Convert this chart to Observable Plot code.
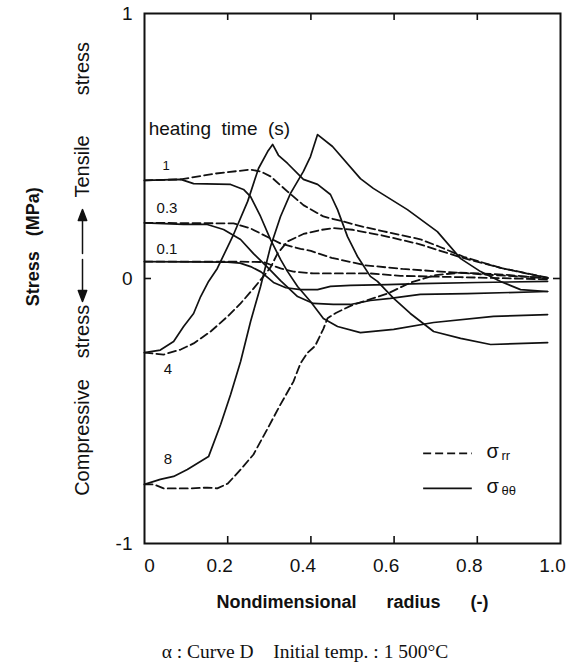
<!DOCTYPE html>
<html>
<head>
<meta charset="utf-8">
<script src="https://cdn.jsdelivr.net/npm/d3@7"></script>
<script src="https://cdn.jsdelivr.net/npm/@observablehq/plot@0.6"></script>
<style>
  body { margin: 0; background: #fff; }
  #chart { width: 576px; }
  svg text { white-space: pre; }
  g[aria-label="xlabel"] text { letter-spacing: 0.6px; }
  g[aria-label="vword"] text { letter-spacing: 1px; }
  g[aria-label="heating"] text { letter-spacing: 0.8px; }
  .caption { width: 576px; box-sizing: border-box; padding-left: 34px; height: 42px; line-height: 44px; text-align: center;
    font-family: "Liberation Serif", "DejaVu Serif", serif; font-size: 19.5px; color: #111; white-space: pre; }
</style>
</head>
<body>
<div id="chart"></div>
<div class="caption">α : Curve D    Initial temp. : 1 500°C</div>
<script>
// ---- data: [nondimensional radius, stress (MPa)] ----
const heatingTimes = ["0.1", "0.3", "1", "4", "8"];

const sigmaRR_t0_1 = [[0,0.064],[0.21,0.064],[0.286,0.062],[0.327,0.038],[0.358,0.026],[0.406,0.019],[0.543,0.019],[0.615,0.01],[0.76,0.005],[0.969,-0.003]];
const sigmaTT_t0_1 = [[0,0.064],[0.2,0.062],[0.23,0.058],[0.255,0.045],[0.28,0.025],[0.31,-0.015],[0.34,-0.035],[0.375,-0.042],[0.416,-0.042],[0.447,-0.03],[0.495,-0.026],[0.584,-0.023],[0.663,-0.019],[0.8,-0.015],[0.969,-0.011]];

const sigmaRR_t0_3 = [[0,0.21],[0.214,0.208],[0.255,0.189],[0.303,0.151],[0.327,0.132],[0.375,0.112],[0.40,0.104],[0.45,0.078],[0.53,0.05],[0.62,0.036],[0.75,0.022],[0.85,0.012],[0.969,0.002]];
const sigmaTT_t0_3 = [[0,0.21],[0.094,0.204],[0.151,0.204],[0.19,0.185],[0.231,0.147],[0.262,0.094],[0.296,0.042],[0.327,-0.008],[0.368,-0.068],[0.406,-0.094],[0.454,-0.098],[0.495,-0.098],[0.543,-0.083],[0.591,-0.075],[0.663,-0.06],[0.776,-0.057],[0.969,-0.049]];

const sigmaRR_t1 = [[0,0.37],[0.087,0.374],[0.171,0.396],[0.255,0.411],[0.279,0.404],[0.303,0.385],[0.344,0.328],[0.382,0.277],[0.43,0.234],[0.478,0.215],[0.526,0.195],[0.575,0.178],[0.663,0.148],[0.712,0.118],[0.767,0.082],[0.856,0.04],[0.969,0.003]];
const sigmaTT_t1 = [[0,0.37],[0.087,0.374],[0.118,0.358],[0.207,0.355],[0.238,0.336],[0.255,0.309],[0.279,0.234],[0.303,0.147],[0.327,0.072],[0.344,0.026],[0.368,-0.03],[0.399,-0.087],[0.43,-0.151],[0.464,-0.181],[0.519,-0.204],[0.599,-0.192],[0.695,-0.166],[0.839,-0.143],[0.969,-0.136]];

const sigmaRR_t4 = [[0,-0.28],[0.046,-0.287],[0.087,-0.268],[0.118,-0.245],[0.159,-0.2],[0.2,-0.143],[0.231,-0.094],[0.262,-0.038],[0.286,0.008],[0.303,0.042],[0.32,0.095],[0.344,0.14],[0.382,0.168],[0.423,0.183],[0.454,0.19],[0.5,0.184],[0.57,0.163],[0.66,0.13],[0.76,0.08],[0.856,0.04],[0.969,0.002]];
const sigmaTT_t4 = [[0,-0.28],[0.038,-0.27],[0.07,-0.238],[0.094,-0.181],[0.118,-0.132],[0.135,-0.068],[0.154,-0.011],[0.175,0.038],[0.214,0.166],[0.248,0.291],[0.274,0.415],[0.296,0.479],[0.308,0.506],[0.322,0.465],[0.344,0.434],[0.382,0.374],[0.416,0.355],[0.447,0.317],[0.464,0.26],[0.488,0.158],[0.512,0.083],[0.543,0.008],[0.56,-0.011],[0.599,-0.075],[0.639,-0.132],[0.695,-0.2],[0.76,-0.226],[0.832,-0.249],[0.969,-0.242]];

const sigmaRR_t8 = [[0,-0.777],[0.022,-0.777],[0.046,-0.792],[0.07,-0.792],[0.111,-0.792],[0.151,-0.789],[0.175,-0.792],[0.2,-0.774],[0.231,-0.721],[0.262,-0.664],[0.296,-0.566],[0.327,-0.475],[0.358,-0.389],[0.375,-0.32],[0.392,-0.28],[0.41,-0.255],[0.43,-0.19],[0.44,-0.15],[0.46,-0.13],[0.5,-0.1],[0.54,-0.08],[0.584,-0.057],[0.64,-0.015],[0.7,0.013],[0.76,0.022],[0.86,0.015],[0.969,0.0]];
const sigmaTT_t8 = [[0,-0.777],[0.038,-0.758],[0.07,-0.747],[0.103,-0.721],[0.154,-0.672],[0.183,-0.551],[0.207,-0.438],[0.231,-0.313],[0.255,-0.162],[0.279,-0.03],[0.303,0.121],[0.327,0.234],[0.351,0.321],[0.382,0.404],[0.399,0.46],[0.416,0.543],[0.452,0.498],[0.519,0.377],[0.55,0.34],[0.632,0.26],[0.704,0.177],[0.76,0.075],[0.808,0.026],[0.856,-0.011],[0.904,-0.042],[0.969,-0.049]];

const xTicks = [0, 0.2, 0.4, 0.6, 0.8, 1.0];
const yTicks = [-1, 0, 1];

// ---- build table ----
const curves = [
  {t: "0.1", stress: "rr", pts: sigmaRR_t0_1}, {t: "0.1", stress: "tt", pts: sigmaTT_t0_1},
  {t: "0.3", stress: "rr", pts: sigmaRR_t0_3}, {t: "0.3", stress: "tt", pts: sigmaTT_t0_3},
  {t: "1",   stress: "rr", pts: sigmaRR_t1},   {t: "1",   stress: "tt", pts: sigmaTT_t1},
  {t: "4",   stress: "rr", pts: sigmaRR_t4},   {t: "4",   stress: "tt", pts: sigmaTT_t4},
  {t: "8",   stress: "rr", pts: sigmaRR_t8},   {t: "8",   stress: "tt", pts: sigmaTT_t8}
];
const rows = curves.flatMap(c => c.pts.map(([x, y]) => ({t: c.t, stress: c.stress, x, y})));

const curveLabels = [
  {t: "1",   x: 0.043, y: 0.426, size: 13},
  {t: "0.3", x: 0.029, y: 0.264, size: 15},
  {t: "0.1", x: 0.029, y: 0.109, size: 15},
  {t: "4",   x: 0.046, y: -0.343, size: 15},
  {t: "8",   x: 0.046, y: -0.683, size: 15}
];

const ink = "#111";
const xDom = [0, 1], yDom = [-1, 1];
const tickLenX = 7 / 416, tickLenY = 7 / 265;
const innerX = xTicks.slice(1, -1);
const fmtX = d => d === 0 ? "0" : d.toFixed(1);
const fmtY = d => d < 0 ? "-" + Math.abs(d) : String(d);

// filled-head arrow shape for the vector mark
const filledArrow = {
  draw(context, l) {
    const h = 11, w = 4.2;
    context.moveTo(0, 0);
    context.lineTo(0, -l + h);
    context.moveTo(0, -l);
    context.lineTo(-w, -l + h);
    context.lineTo(w, -l + h);
    context.closePath();
  }
};

const vText = (word, yv, opts = {}) =>
  Plot.text([word], {y: () => yv, text: d => d, frameAnchor: "left", dx: -62, rotate: -90,
    textAnchor: "middle", fontSize: 20, fill: ink, ariaLabel: "vword", ...opts});

const plot = Plot.plot({
  width: 576, height: 630,
  marginLeft: 144, marginRight: 16, marginTop: 13, marginBottom: 87,
  x: {domain: xDom},
  y: {domain: yDom},
  style: {fontFamily: "'Liberation Sans', Arial, Helvetica, sans-serif", background: "#fff", color: ink},
  marks: [
    Plot.line(rows.filter(d => d.stress === "rr"), {x: "x", y: "y", z: "t", stroke: ink, strokeWidth: 1.8, strokeDasharray: "8,4"}),
    Plot.line(rows.filter(d => d.stress === "tt"), {x: "x", y: "y", z: "t", stroke: ink, strokeWidth: 1.7}),
    Plot.frame({stroke: ink, strokeWidth: 2}),
    // inward ticks
    Plot.ruleX(innerX, {x: d => d, y1: yDom[0], y2: yDom[0] + tickLenY, stroke: ink, strokeWidth: 1.6}),
    Plot.ruleX(innerX, {x: d => d, y1: yDom[1], y2: yDom[1] - tickLenY, stroke: ink, strokeWidth: 1.6}),
    Plot.ruleY([0], {y: d => d, x1: xDom[0], x2: xDom[0] + tickLenX, stroke: ink, strokeWidth: 1.6}),
    Plot.ruleY([0], {y: d => d, x1: xDom[1], x2: xDom[1] - tickLenX, stroke: ink, strokeWidth: 1.6}),
    // tick labels
    Plot.axisX({anchor: "bottom", ticks: xTicks.slice(1), tickSize: 0, tickPadding: 15, tickFormat: fmtX, fontSize: 19, dx: -8, label: null}),
    Plot.axisX({anchor: "bottom", ticks: [0], tickSize: 0, tickPadding: 15, tickFormat: fmtX, fontSize: 19, dx: 5, label: null}),
    Plot.axisY({anchor: "left", ticks: yTicks, tickSize: 0, tickPadding: 12, tickFormat: fmtY, fontSize: 19, label: null}),
    // curve labels
    Plot.text(curveLabels, {x: "x", y: "y", text: "t", fontSize: d => d.size, textAnchor: "start", fill: ink}),
    Plot.text(["heating  time  (s)"], {x: () => 0.01, y: () => 0.566, text: d => d, textAnchor: "start", fontSize: 19, fill: ink, ariaLabel: "heating"}),
    // legend
    Plot.ruleY([-0.66], {x1: 0.671, x2: 0.788, stroke: ink, strokeWidth: 1.8, strokeDasharray: "8,4"}),
    Plot.ruleY([-0.792], {x1: 0.671, x2: 0.788, stroke: ink, strokeWidth: 1.7}),
    Plot.text(["σ"], {x: () => 0.822, y: () => -0.655, text: d => d, fontSize: 20, textAnchor: "start", fill: ink}),
    Plot.text(["rr"], {x: () => 0.858, y: () => -0.668, text: d => d, fontSize: 13, textAnchor: "start", fill: ink}),
    Plot.text(["σ"], {x: () => 0.822, y: () => -0.787, text: d => d, fontSize: 20, textAnchor: "start", fill: ink}),
    Plot.text(["θθ"], {x: () => 0.858, y: () => -0.8, text: d => d, fontSize: 13, textAnchor: "start", fill: ink}),
    // axis titles
    Plot.text(["Nondimensional      radius      (-)"], {x: () => 0.5, frameAnchor: "bottom", text: d => d, dy: 64, fontSize: 18, fontWeight: "bold", fill: ink, ariaLabel: "xlabel"}),
    Plot.text(["Stress   (MPa)"], {y: () => 0.12, frameAnchor: "left", text: d => d, dx: -111, rotate: -90, textAnchor: "middle", fontSize: 18, fontWeight: "bold", fill: ink}),
    vText("stress", 0.792),
    vText("Tensile", 0.423),
    vText("stress", -0.2),
    vText("Compressive", -0.6),
    Plot.vector([0.094], {y: d => d, frameAnchor: "left", dx: -62, length: 44, rotate: 0, anchor: "start", shape: filledArrow, stroke: ink, fill: ink, strokeWidth: 1.5}),
    Plot.vector([0.072], {y: d => d, frameAnchor: "left", dx: -62, length: 42, rotate: 180, anchor: "start", shape: filledArrow, stroke: ink, fill: ink, strokeWidth: 1.5})
  ]
});
document.getElementById("chart").appendChild(plot);
</script>
</body>
</html>
